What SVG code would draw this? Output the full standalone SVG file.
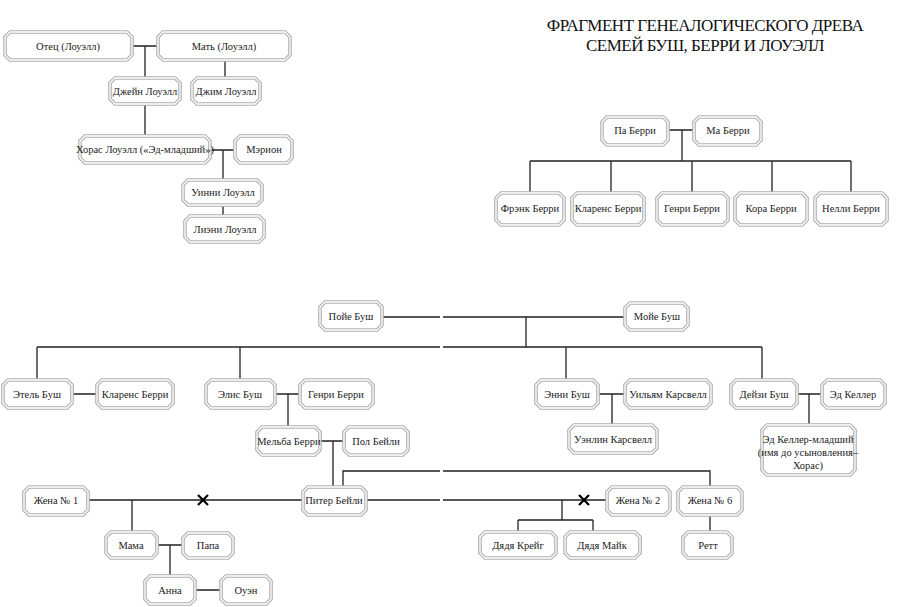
<svg xmlns="http://www.w3.org/2000/svg" width="900" height="607" viewBox="0 0 900 607">
<style>
.o{fill:#fff;stroke:#b0b0b0;stroke-width:3.6}
.i{fill:none;stroke:#fff;stroke-width:1.3}
text{font-family:"Liberation Serif",serif;font-size:10.5px;fill:#222;text-anchor:middle}
.t{font-size:17px;fill:#111;letter-spacing:-0.5px}
.c{fill:none;stroke:#222;stroke-width:1.3}
.x{fill:none;stroke:#000;stroke-width:2.2}
</style>
<rect width="900" height="607" fill="#fff"/>
<text class="t" x="705" y="31">ФРАГМЕНТ ГЕНЕАЛОГИЧЕСКОГО ДРЕВА</text>
<text class="t" x="705" y="51">СЕМЕЙ БУШ, БЕРРИ И ЛОУЭЛЛ</text>
<g id="connectors">
<path class="c" d="M132 46H158M145 46V78M225 60V78M145 104V136M210 150H235M223 150V180M223 205V216"/>
<path class="c" d="M668 130H694M682 130V161M530 161H851M530 161V193M611 161V193M692 161V193M772 161V193M851 161V193"/>
<path class="c" d="M382 317H440M443 317H625M526 317V347M37 347H440M443 347H762M37 347V380M240 347V380M566 347V380M762 347V380"/>
<path class="c" d="M72 394H97M275 394H300M288 394V427M320 441H344M333 441V487M598 394H625M612 394V425M797 394H822M809 394V425"/>
<path class="c" d="M343 487V471H440M443 471H710V487M88 500H303M132 500V532M366 500H440M443 500H607M562 500V520M518 520H593M518 520V532M593 520V532M710 515V532"/>
<path class="c" d="M157 545H183M170 545V576M195 590H221"/>
<path class="x" d="M198 495L208 505M208 495L198 505M579 495L589 505M589 495L579 505"/>
</g>
<g id="n-otec"><polygon class="o" points="10,32 127,32 132,37 132,55 127,60 10,60 5,55 5,37"/><polygon class="i" points="10,32 127,32 132,37 132,55 127,60 10,60 5,55 5,37"/><text x="68" y="50">Отец (Лоуэлл)</text></g>
<g id="n-mat"><polygon class="o" points="163,32 285,32 290,37 290,55 285,60 163,60 158,55 158,37"/><polygon class="i" points="163,32 285,32 290,37 290,55 285,60 163,60 158,55 158,37"/><text x="224" y="50">Мать (Лоуэлл)</text></g>
<g id="n-jane"><polygon class="o" points="115,78 175,78 180,83 180,99 175,104 115,104 110,99 110,83"/><polygon class="i" points="115,78 175,78 180,83 180,99 175,104 115,104 110,99 110,83"/><text x="145" y="95">Джейн Лоуэлл</text></g>
<g id="n-jim"><polygon class="o" points="197,78 255,78 260,83 260,99 255,104 197,104 192,99 192,83"/><polygon class="i" points="197,78 255,78 260,83 260,99 255,104 197,104 192,99 192,83"/><text x="226" y="95">Джим Лоуэлл</text></g>
<g id="n-horas"><polygon class="o" points="85,136 205,136 210,141 210,158 205,163 85,163 80,158 80,141"/><polygon class="i" points="85,136 205,136 210,141 210,158 205,163 85,163 80,158 80,141"/><text x="145" y="153">Хорас Лоуэлл («Эд-младший»)</text></g>
<g id="n-merion"><polygon class="o" points="240,136 287,136 292,141 292,158 287,163 240,163 235,158 235,141"/><polygon class="i" points="240,136 287,136 292,141 292,158 287,163 240,163 235,158 235,141"/><text x="264" y="153">Мэрион</text></g>
<g id="n-winnie"><polygon class="o" points="188,180 257,180 262,185 262,200 257,205 188,205 183,200 183,185"/><polygon class="i" points="188,180 257,180 262,185 262,200 257,205 188,205 183,200 183,185"/><text x="223" y="196">Уинни Лоуэлл</text></g>
<g id="n-lieni"><polygon class="o" points="190,216 259,216 264,221 264,237 259,242 190,242 185,237 185,221"/><polygon class="i" points="190,216 259,216 264,221 264,237 259,242 190,242 185,237 185,221"/><text x="225" y="233">Лиэни Лоуэлл</text></g>
<g id="n-paberri"><polygon class="o" points="607,117 663,117 668,122 668,140 663,145 607,145 602,140 602,122"/><polygon class="i" points="607,117 663,117 668,122 668,140 663,145 607,145 602,140 602,122"/><text x="635" y="134">Па Берри</text></g>
<g id="n-maberri"><polygon class="o" points="699,117 756,117 761,122 761,140 756,145 699,145 694,140 694,122"/><polygon class="i" points="699,117 756,117 761,122 761,140 756,145 699,145 694,140 694,122"/><text x="728" y="134">Ма Берри</text></g>
<g id="n-frenk"><polygon class="o" points="501,193 559,193 564,198 564,220 559,225 501,225 496,220 496,198"/><polygon class="i" points="501,193 559,193 564,198 564,220 559,225 501,225 496,220 496,198"/><text x="530" y="212">Фрэнк Берри</text></g>
<g id="n-klarens1"><polygon class="o" points="577,193 639,193 644,198 644,220 639,225 577,225 572,220 572,198"/><polygon class="i" points="577,193 639,193 644,198 644,220 639,225 577,225 572,220 572,198"/><text x="608" y="212">Кларенс Берри</text></g>
<g id="n-genri1"><polygon class="o" points="662,193 723,193 728,198 728,220 723,225 662,225 657,220 657,198"/><polygon class="i" points="662,193 723,193 728,198 728,220 723,225 662,225 657,220 657,198"/><text x="692" y="212">Генри Берри</text></g>
<g id="n-kora"><polygon class="o" points="740,193 802,193 807,198 807,220 802,225 740,225 735,220 735,198"/><polygon class="i" points="740,193 802,193 807,198 807,220 802,225 740,225 735,220 735,198"/><text x="771" y="212">Кора Берри</text></g>
<g id="n-nelli"><polygon class="o" points="820,193 882,193 887,198 887,220 882,225 820,225 815,220 815,198"/><polygon class="i" points="820,193 882,193 887,198 887,220 882,225 820,225 815,220 815,198"/><text x="851" y="212">Нелли Берри</text></g>
<g id="n-poie"><polygon class="o" points="325,302 377,302 382,307 382,325 377,330 325,330 320,325 320,307"/><polygon class="i" points="325,302 377,302 382,307 382,325 377,330 325,330 320,325 320,307"/><text x="351" y="320">Пойе Буш</text></g>
<g id="n-moie"><polygon class="o" points="630,303 683,303 688,308 688,325 683,330 630,330 625,325 625,308"/><polygon class="i" points="630,303 683,303 688,308 688,325 683,330 630,330 625,325 625,308"/><text x="657" y="320">Мойе Буш</text></g>
<g id="n-etel"><polygon class="o" points="8,380 67,380 72,385 72,403 67,408 8,408 3,403 3,385"/><polygon class="i" points="8,380 67,380 72,385 72,403 67,408 8,408 3,403 3,385"/><text x="37" y="398">Этель Буш</text></g>
<g id="n-klarens2"><polygon class="o" points="102,380 168,380 173,385 173,403 168,408 102,408 97,403 97,385"/><polygon class="i" points="102,380 168,380 173,385 173,403 168,408 102,408 97,403 97,385"/><text x="135" y="398">Кларенс Берри</text></g>
<g id="n-elis"><polygon class="o" points="211,380 270,380 275,385 275,403 270,408 211,408 206,403 206,385"/><polygon class="i" points="211,380 270,380 275,385 275,403 270,408 211,408 206,403 206,385"/><text x="240" y="398">Элис Буш</text></g>
<g id="n-genri2"><polygon class="o" points="305,380 368,380 373,385 373,403 368,408 305,408 300,403 300,385"/><polygon class="i" points="305,380 368,380 373,385 373,403 368,408 305,408 300,403 300,385"/><text x="336" y="398">Генри Берри</text></g>
<g id="n-melba"><polygon class="o" points="262,427 315,427 320,432 320,450 315,455 262,455 257,450 257,432"/><polygon class="i" points="262,427 315,427 320,432 320,450 315,455 262,455 257,450 257,432"/><text x="289" y="445">Мельба Берри</text></g>
<g id="n-pol"><polygon class="o" points="349,427 403,427 408,432 408,450 403,455 349,455 344,450 344,432"/><polygon class="i" points="349,427 403,427 408,432 408,450 403,455 349,455 344,450 344,432"/><text x="376" y="445">Пол Бейли</text></g>
<g id="n-piter"><polygon class="o" points="308,487 361,487 366,492 366,510 361,515 308,515 303,510 303,492"/><polygon class="i" points="308,487 361,487 366,492 366,510 361,515 308,515 303,510 303,492"/><text x="334" y="504">Питер Бейли</text></g>
<g id="n-zhena1"><polygon class="o" points="29,487 83,487 88,492 88,510 83,515 29,515 24,510 24,492"/><polygon class="i" points="29,487 83,487 88,492 88,510 83,515 29,515 24,510 24,492"/><text x="56" y="504">Жена № 1</text></g>
<g id="n-zhena2"><polygon class="o" points="612,487 665,487 670,492 670,510 665,515 612,515 607,510 607,492"/><polygon class="i" points="612,487 665,487 670,492 670,510 665,515 612,515 607,510 607,492"/><text x="638" y="504">Жена № 2</text></g>
<g id="n-zhena6"><polygon class="o" points="683,487 737,487 742,492 742,510 737,515 683,515 678,510 678,492"/><polygon class="i" points="683,487 737,487 742,492 742,510 737,515 683,515 678,510 678,492"/><text x="710" y="504">Жена № 6</text></g>
<g id="n-mama"><polygon class="o" points="111,532 152,532 157,537 157,553 152,558 111,558 106,553 106,537"/><polygon class="i" points="111,532 152,532 157,537 157,553 152,558 111,558 106,553 106,537"/><text x="131" y="549">Мама</text></g>
<g id="n-papa"><polygon class="o" points="188,533 228,533 233,538 233,553 228,558 188,558 183,553 183,538"/><polygon class="i" points="188,533 228,533 233,538 233,553 228,558 188,558 183,553 183,538"/><text x="208" y="549">Папа</text></g>
<g id="n-anna"><polygon class="o" points="150,576 190,576 195,581 195,599 190,604 150,604 145,599 145,581"/><polygon class="i" points="150,576 190,576 195,581 195,599 190,604 150,604 145,599 145,581"/><text x="170" y="594">Анна</text></g>
<g id="n-ouen"><polygon class="o" points="226,576 266,576 271,581 271,599 266,604 226,604 221,599 221,581"/><polygon class="i" points="226,576 266,576 271,581 271,599 266,604 226,604 221,599 221,581"/><text x="246" y="594">Оуэн</text></g>
<g id="n-kreig"><polygon class="o" points="485,532 551,532 556,537 556,553 551,558 485,558 480,553 480,537"/><polygon class="i" points="485,532 551,532 556,537 556,553 551,558 485,558 480,553 480,537"/><text x="518" y="549">Дядя Крейг</text></g>
<g id="n-maik"><polygon class="o" points="570,532 635,532 640,537 640,553 635,558 570,558 565,553 565,537"/><polygon class="i" points="570,532 635,532 640,537 640,553 635,558 570,558 565,553 565,537"/><text x="602" y="549">Дядя Майк</text></g>
<g id="n-rett"><polygon class="o" points="688,532 727,532 732,537 732,553 727,558 688,558 683,553 683,537"/><polygon class="i" points="688,532 727,532 732,537 732,553 727,558 688,558 683,553 683,537"/><text x="708" y="549">Ретт</text></g>
<g id="n-enni"><polygon class="o" points="541,380 593,380 598,385 598,403 593,408 541,408 536,403 536,385"/><polygon class="i" points="541,380 593,380 598,385 598,403 593,408 541,408 536,403 536,385"/><text x="567" y="398">Энни Буш</text></g>
<g id="n-uilyam"><polygon class="o" points="630,380 706,380 711,385 711,403 706,408 630,408 625,403 625,385"/><polygon class="i" points="630,380 706,380 711,385 711,403 706,408 630,408 625,403 625,385"/><text x="668" y="398">Уильям Карсвелл</text></g>
<g id="n-uenlin"><polygon class="o" points="574,425 652,425 657,430 657,448 652,453 574,453 569,448 569,430"/><polygon class="i" points="574,425 652,425 657,430 657,448 652,453 574,453 569,448 569,430"/><text x="613" y="443">Уэнлин Карсвелл</text></g>
<g id="n-deizi"><polygon class="o" points="736,380 792,380 797,385 797,403 792,408 736,408 731,403 731,385"/><polygon class="i" points="736,380 792,380 797,385 797,403 792,408 736,408 731,403 731,385"/><text x="764" y="398">Дейзи Буш</text></g>
<g id="n-edkeller"><polygon class="o" points="827,380 880,380 885,385 885,403 880,408 827,408 822,403 822,385"/><polygon class="i" points="827,380 880,380 885,385 885,403 880,408 827,408 822,403 822,385"/><text x="853" y="398">Эд Келлер</text></g>
<g id="n-edjr"><polygon class="o" points="767,425 850,425 855,430 855,470 850,475 767,475 762,470 762,430"/><polygon class="i" points="767,425 850,425 855,430 855,470 850,475 767,475 762,470 762,430"/><text x="808" y="443">Эд Келлер-младший</text><text x="808" y="456">(имя до усыновления–</text><text x="808" y="469">Хорас)</text></g>
</svg>
